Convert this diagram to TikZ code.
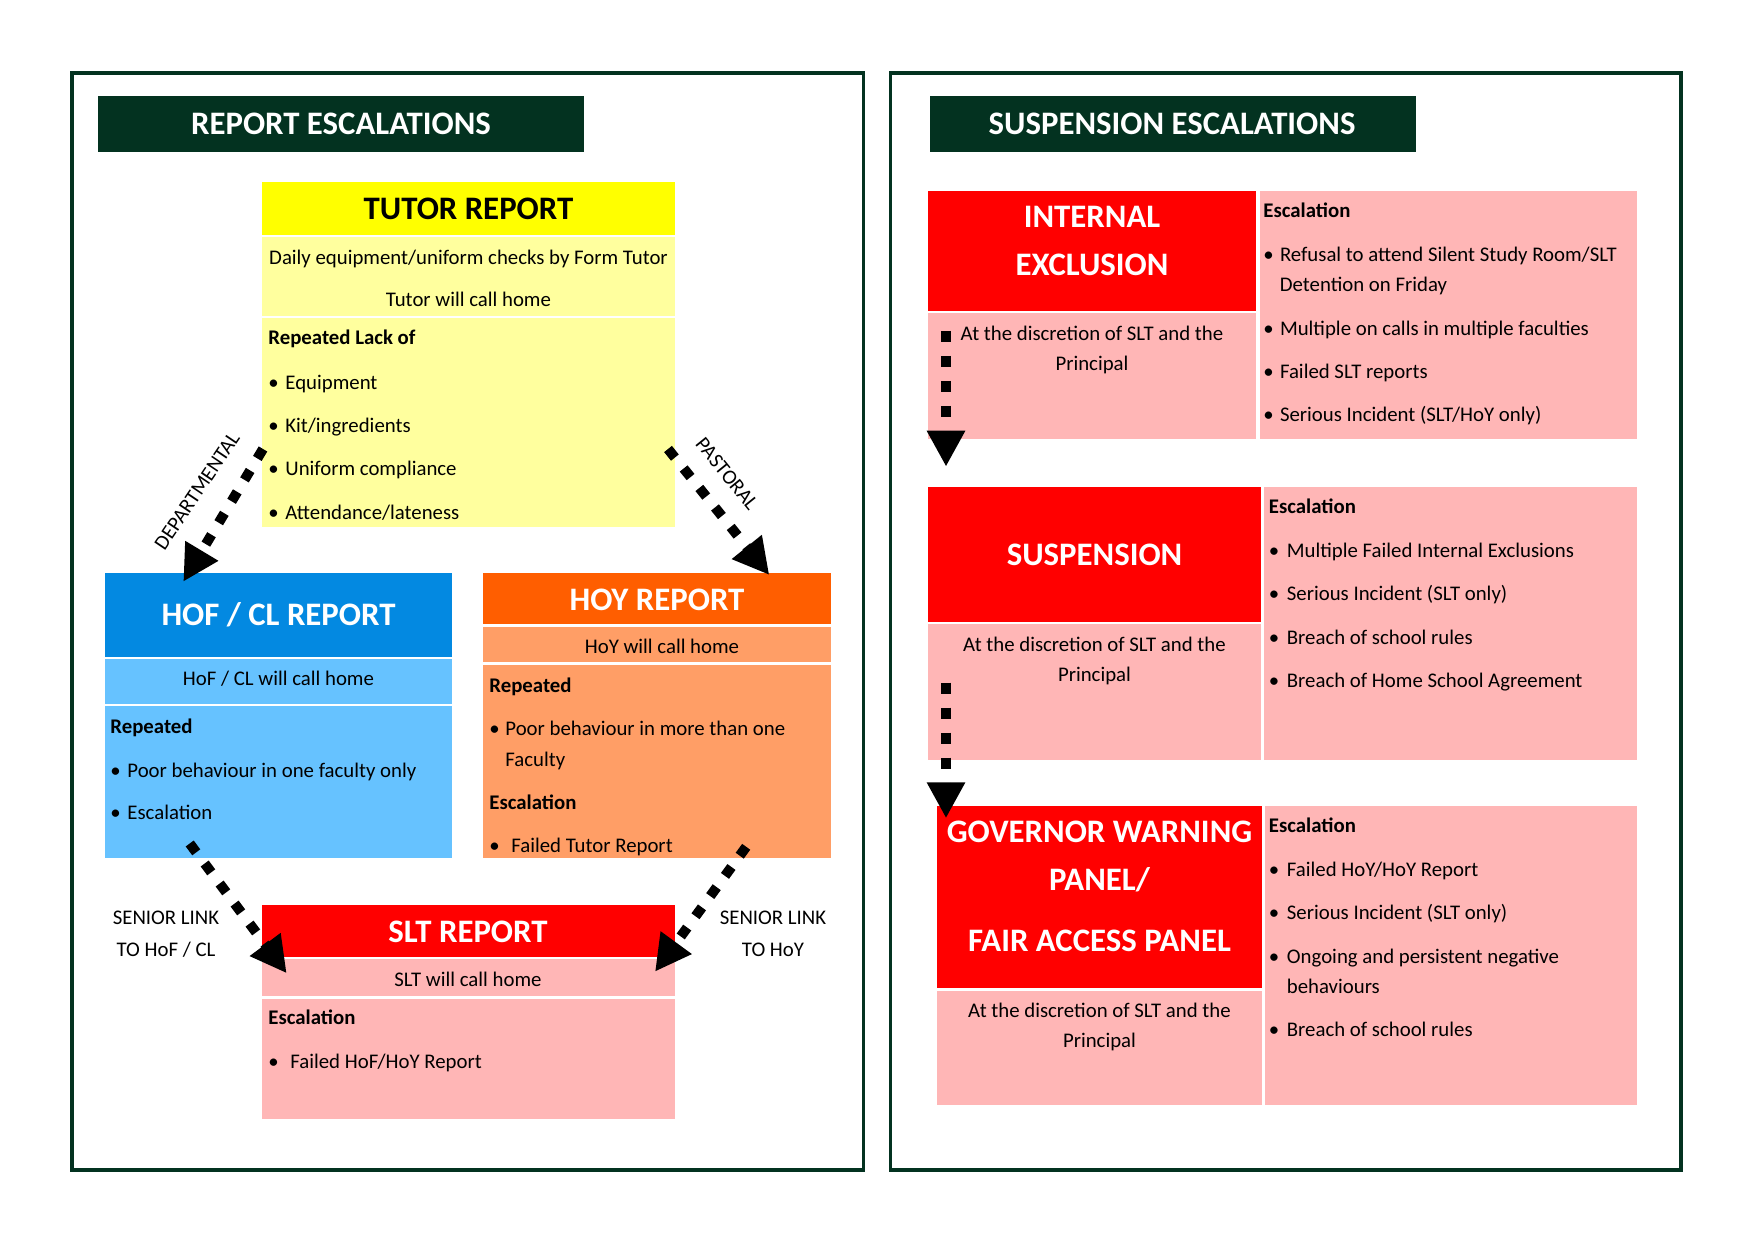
\documentclass[tikz,border=0pt]{standalone}
\usepackage{fontspec}
\setmainfont{Carlito}
\usetikzlibrary{arrows.meta}
\definecolor{dkgreen}{RGB}{3,50,32}
\definecolor{yel}{RGB}{255,255,0}
\definecolor{lyel}{RGB}{255,255,158}
\definecolor{blu}{RGB}{3,137,225}
\definecolor{lblu}{RGB}{102,194,255}
\definecolor{ora}{RGB}{255,94,0}
\definecolor{lora}{RGB}{255,158,102}
\definecolor{rptred}{RGB}{255,0,0}
\definecolor{rptpink}{RGB}{255,182,182}
\newcommand\bul[1]{\makebox[#1][l]{•}}
\begin{document}
\begin{tikzpicture}[x=0.5pt,y=-0.5pt,
  box/.style={draw=none,inner sep=0pt,outer sep=0pt,anchor=north west},
  body/.style={inner sep=0pt,yshift=-0.5pt,font=\fontsize{10.4}{12.5}\selectfont,text height=6.7pt,text depth=0pt},
  bl/.style={body,anchor=west},
  bb/.style={body,anchor=west,font=\bfseries\fontsize{10.4}{12.5}\selectfont},
  ttl/.style={inner sep=0pt,font=\bfseries\fontsize{16.4}{19}\selectfont,text height=10.6pt,text depth=0pt,text=white},
  darr/.style={line width=5pt,dash pattern=on 5.5pt off 7pt,-{Triangle[length=18pt,width=18pt]}},
]
\useasboundingbox (0,0) rectangle (1754,1240);
\fill[white] (0,0) rectangle (1754,1240);

% ---------------- Left panel ----------------
\node[box,draw=dkgreen,line width=1.75pt,minimum width=395.75pt,minimum height=548.5pt] (frameL) at (72,73) {};
\node[box,fill=dkgreen,minimum width=243pt,minimum height=28pt] (hdrL) at (98,96) {};
\node[ttl] (hdrLt) at (341,124) {REPORT ESCALATIONS};

% Tutor report
\node[box,fill=yel,minimum width=206.5pt,minimum height=26.5pt] (tutH) at (262,182) {};
\node[box,fill=lyel,minimum width=206.5pt,minimum height=39.5pt] (tutA) at (262,237) {};
\node[box,fill=lyel,minimum width=206.5pt,minimum height=104.5pt] (tutB) at (262,318) {};
\node[ttl,text=black] (tutT) at (468.5,208.5) {TUTOR REPORT};
\node[body] (tut1) at (468.5,256.5) {Daily equipment/uniform checks by Form Tutor};
\node[body] (tut2) at (468.5,299) {Tutor will call home};
\node[bb] (tut3) at (268,337) {Repeated Lack of};
\node[bl] (tut4) at (268,381.5) {\bul{8.5pt}Equipment};
\node[bl] (tut5) at (268,424.5) {\bul{8.5pt}Kit/ingredients};
\node[bl] (tut6) at (268,468) {\bul{8.5pt}Uniform compliance};
\node[bl] (tut7) at (268,511.5) {\bul{8.5pt}Attendance/lateness};

% HoF / CL report
\node[box,fill=blu,minimum width=173.5pt,minimum height=42pt] (hofH) at (105,573) {};
\node[box,fill=lblu,minimum width=173.5pt,minimum height=22.5pt] (hofA) at (105,659) {};
\node[box,fill=lblu,minimum width=173.5pt,minimum height=76pt] (hofB) at (105,706) {};
\node[ttl] (hofT) at (278.5,615) {HOF / CL REPORT};
\node[body] (hof1) at (278.5,678) {HoF / CL will call home};
\node[bb] (hof2) at (110,726) {Repeated};
\node[bl] (hof3) at (110,769.6) {\bul{8.5pt}Poor behaviour in one faculty only};
\node[bl] (hof4) at (110,812) {\bul{8.5pt}Escalation};

% HoY report
\node[box,fill=ora,minimum width=174pt,minimum height=25.5pt] (hoyH) at (483,573) {};
\node[box,fill=lora,minimum width=174pt,minimum height=17.5pt] (hoyA) at (483,627) {};
\node[box,fill=lora,minimum width=174pt,minimum height=96.5pt] (hoyB) at (483,665) {};
\node[ttl] (hoyT) at (657,599.6) {HOY REPORT};
\node[body] (hoy1) at (662,645.4) {HoY will call home};
\node[bb] (hoy2) at (489,684.6) {Repeated};
\node[bl] (hoy3) at (489,728) {\bul{8pt}Poor behaviour in more than one};
\node[bl] (hoy4) at (505,758.4) {Faculty};
\node[bb] (hoy5) at (489,802) {Escalation};
\node[bl] (hoy6) at (489,844.5) {\bul{11pt}Failed Tutor Report};

% SLT report
\node[box,fill=rptred,minimum width=206.5pt,minimum height=26pt] (sltH) at (262,905) {};
\node[box,fill=rptpink,minimum width=206.5pt,minimum height=18.5pt] (sltA) at (262,959) {};
\node[box,fill=rptpink,minimum width=206.5pt,minimum height=60pt] (sltB) at (262,999) {};
\node[ttl] (sltT) at (468,931.8) {SLT REPORT};
\node[body] (slt1) at (468,978.8) {SLT will call home};
\node[bb] (slt2) at (268,1016.8) {Escalation};
\node[bl] (slt3) at (268,1060.4) {\bul{11pt}Failed HoF/HoY Report};

% labels
\node[body,rotate=56] (dep) at (197,490) {DEPARTMENTAL};
\node[body,rotate=-51] (pas) at (727,473) {PASTORAL};
\node[body] (sl1a) at (166,917) {SENIOR LINK};
\node[body] (sl1b) at (166,948.6) {TO HoF / CL};
\node[body] (sl2a) at (773,917) {SENIOR LINK};
\node[body] (sl2b) at (773,948.6) {TO HoY};

% arrows
\coordinate (depS) at (263,449);   \coordinate (depE) at (183.3,581.7);
\coordinate (pasS) at (668,449);   \coordinate (pasE) at (769.3,575);
\coordinate (slaS) at (189.7,843.5); \coordinate (slaE) at (286.7,973.3);
\coordinate (slbS) at (746.2,846.8); \coordinate (slbE) at (655,971.7);
\draw[darr] (depS) -- (depE);
\draw[darr] (pasS) -- (pasE);
\draw[darr] (slaS) -- (slaE);
\draw[darr] (slbS) -- (slbE);

% ---------------- Right panel ----------------
\node[box,draw=dkgreen,line width=1.75pt,minimum width=395.25pt,minimum height=548.5pt] (frameR) at (890.5,73) {};
\node[box,fill=dkgreen,minimum width=243pt,minimum height=28pt] (hdrR) at (930,96) {};
\node[ttl] (hdrRt) at (1172,124) {SUSPENSION ESCALATIONS};

% Internal exclusion
\node[box,fill=rptred,minimum width=164pt,minimum height=60pt] (ieH) at (928,191) {};
\node[box,fill=rptpink,minimum width=164pt,minimum height=63pt] (ieA) at (928,313) {};
\node[box,fill=rptpink,minimum width=188.5pt,minimum height=124pt] (ieR) at (1259.5,191) {};
\node[ttl] (ieT1) at (1092,217) {INTERNAL};
\node[ttl] (ieT2) at (1092,265) {EXCLUSION};
\node[body] (ie1) at (1092,332.5) {At the discretion of SLT and the};
\node[body] (ie2) at (1092,362.5) {Principal};
\node[bb] (ie3) at (1263,210) {Escalation};
\node[bl] (ie4) at (1263,254) {\bul{8.3pt}Refusal to attend Silent Study Room/SLT};
\node[bl] (ie5) at (1279.5,284) {Detention on Friday};
\node[bl] (ie6) at (1263,327.7) {\bul{8.3pt}Multiple on calls in multiple faculties};
\node[bl] (ie7) at (1263,370.5) {\bul{8.3pt}Failed SLT reports};
\node[bl] (ie8) at (1263,413.5) {\bul{8.3pt}Serious Incident (SLT/HoY only)};

% Suspension
\node[box,fill=rptred,minimum width=166.5pt,minimum height=67.5pt] (suH) at (928,487) {};
\node[box,fill=rptpink,minimum width=166.5pt,minimum height=68pt] (suA) at (928,624) {};
\node[box,fill=rptpink,minimum width=186.25pt,minimum height=136.5pt] (suR) at (1264,487) {};
\node[ttl] (suT) at (1094.5,555) {SUSPENSION};
\node[body] (su1) at (1094.5,643.3) {At the discretion of SLT and the};
\node[body] (su2) at (1094.5,673.3) {Principal};
\node[bb] (su3) at (1268.5,505.7) {Escalation};
\node[bl] (su4) at (1268.5,550) {\bul{9pt}Multiple Failed Internal Exclusions};
\node[bl] (su5) at (1268.5,592.7) {\bul{9pt}Serious Incident (SLT only)};
\node[bl] (su6) at (1268.5,636.7) {\bul{9pt}Breach of school rules};
\node[bl] (su7) at (1268.5,680) {\bul{9pt}Breach of Home School Agreement};

% Governor warning panel
\node[box,fill=rptred,minimum width=162.5pt,minimum height=91pt] (gwH) at (937,806) {};
\node[box,fill=rptpink,minimum width=162.5pt,minimum height=57pt] (gwA) at (937,991) {};
\node[box,fill=rptpink,minimum width=185.75pt,minimum height=149.5pt] (gwR) at (1265,806) {};
\node[ttl] (gwT1) at (1099.5,831.7) {GOVERNOR WARNING};
\node[ttl] (gwT2) at (1099.5,880) {PANEL/};
\node[ttl] (gwT3) at (1099.5,940.7) {FAIR ACCESS PANEL};
\node[body] (gw1) at (1099.5,1010) {At the discretion of SLT and the};
\node[body] (gw2) at (1099.5,1039.3) {Principal};
\node[bb] (gw3) at (1268.5,825) {Escalation};
\node[bl] (gw4) at (1268.5,869) {\bul{9pt}Failed HoY/HoY Report};
\node[bl] (gw5) at (1268.5,911.7) {\bul{9pt}Serious Incident (SLT only)};
\node[bl] (gw6) at (1268.5,955.7) {\bul{9pt}Ongoing and persistent negative};
\node[bl] (gw7) at (1286.5,985.7) {behaviours};
\node[bl] (gw8) at (1268.5,1029) {\bul{9pt}Breach of school rules};

% vertical arrows
\coordinate (ieS) at (946,331);   \coordinate (ieE) at (946,466.7);
\coordinate (suS) at (946,682.7); \coordinate (suE) at (946,818.3);
\draw[darr] (ieS) -- (ieE);
\draw[darr] (suS) -- (suE);
\end{tikzpicture}
\end{document}
